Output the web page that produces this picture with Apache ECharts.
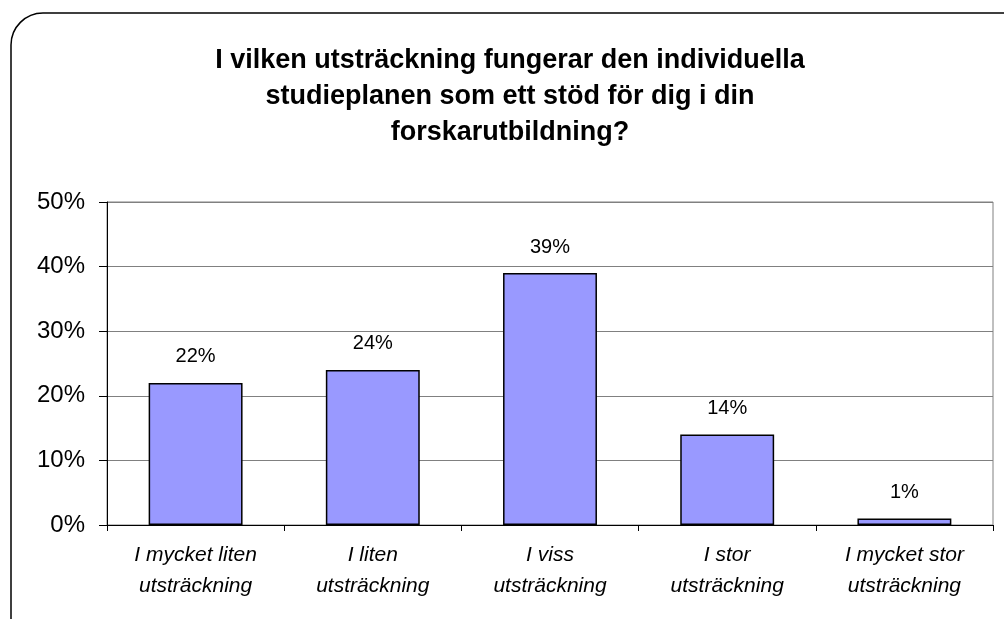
<!DOCTYPE html>
<html style="height: 100%">
<head>
    <meta charset="utf-8">
    <title>Individuella studieplanen</title>
    <script src="https://cdn.jsdelivr.net/npm/echarts@6/dist/echarts.min.js"></script>
</head>
<body style="height: 100%; margin: 0; background: #fff">
    <div id="main" style="width: 1004px; height: 619px"></div>
    <script type="text/javascript">
        // data
        var categories = ['I mycket liten\nutsträckning', 'I liten\nutsträckning', 'I viss\nutsträckning', 'I stor\nutsträckning', 'I mycket stor\nutsträckning'];
        var values = [22, 24, 39, 14, 1];
        var titleText = 'I vilken utsträckning fungerar den individuella\nstudieplanen som ett stöd för dig i din\nforskarutbildning?';

        var myChart = echarts.init(document.getElementById('main'));

        var option = {
            animation: false,
            textStyle: { fontFamily: 'Liberation Sans, Arial, sans-serif' },
            graphic: [
                {
                    type: 'rect',
                    shape: { x: 11, y: 13, width: 1040, height: 660, r: 32 },
                    style: { fill: 'none', stroke: '#000', lineWidth: 1.5 },
                    silent: true
                }
            ],
            title: {
                text: titleText,
                left: 505,
                textAlign: 'center',
                top: 38,
                textStyle: {
                    fontSize: 27,
                    fontWeight: 'bold',
                    color: '#000',
                    lineHeight: 36
                }
            },
            grid: {
                left: 107,
                right: 11,
                top: 202,
                bottom: 94,
                show: true,
                borderColor: '#808080',
                borderWidth: 1
            },
            xAxis: {
                type: 'category',
                data: categories,
                axisLine: { lineStyle: { color: '#000', width: 1 } },
                axisTick: { show: true, length: 6, lineStyle: { color: '#000' } },
                axisLabel: {
                    fontSize: 21,
                    fontStyle: 'italic',
                    color: '#000',
                    lineHeight: 31,
                    margin: 15
                }
            },
            yAxis: {
                type: 'value',
                min: 0,
                max: 50,
                interval: 10,
                axisLine: { show: true, lineStyle: { color: '#000', width: 1 } },
                axisTick: { show: true, length: 8, lineStyle: { color: '#000' } },
                splitLine: { lineStyle: { color: '#808080', width: 1 } },
                axisLabel: {
                    fontSize: 24,
                    color: '#000',
                    margin: 22,
                    formatter: '{value}%'
                }
            },
            series: [
                {
                    type: 'bar',
                    data: values,
                    barWidth: '53%',
                    itemStyle: {
                        color: '#9999FF',
                        borderColor: '#000',
                        borderWidth: 1.5
                    },
                    label: {
                        show: true,
                        position: 'top',
                        distance: 16,
                        fontSize: 20,
                        color: '#000',
                        formatter: '{c}%'
                    }
                }
            ]
        };

        myChart.setOption(option);
    </script>
</body>
</html>
